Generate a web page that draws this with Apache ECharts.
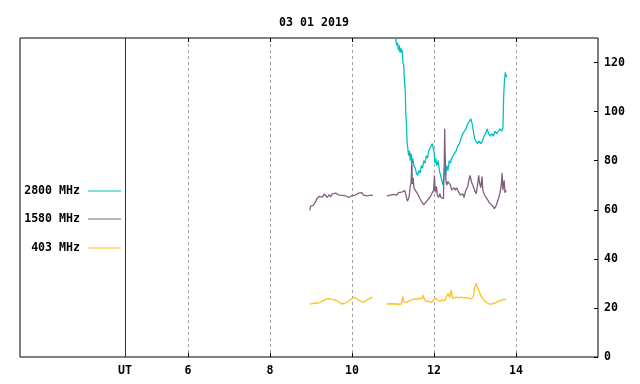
<!DOCTYPE html>
<html>
<head>
<meta charset="utf-8">
<script src="https://cdn.jsdelivr.net/npm/echarts@6/dist/echarts.min.js"></script>
<style>
html,body{margin:0;padding:0;background:#fff;}
#chart{width:640px;height:384px;}
</style>
</head>
<body>
<div id="chart"></div>
<script>
// ---- data ----
const titleText = '03 01 2019';
const xTickValues = [6, 8, 10, 12, 14];
const yTickValues = [0, 20, 40, 60, 80, 100, 120];
const utTime = 4.46;
const utLabel = 'UT';
const seriesNames = ['2800 MHz', '1580 MHz', '403 MHz'];

const t2800 = [11.05,11.07,11.09,11.11,11.13,11.15,11.17,11.19,11.21,11.23,11.24,11.26,11.28,11.30,11.31,11.33,11.34,11.36,11.38,11.40,11.42,11.44,11.46,11.48,11.51,11.54,11.57,11.60,11.63,11.66,11.69,11.72,11.75,11.78,11.81,11.84,11.87,11.90,11.93,11.96,11.98,12.00,12.02,12.04,12.07,12.10,12.13,12.16,12.19,12.22,12.24,12.26,12.28,12.31,12.34,12.37,12.40,12.43,12.46,12.50,12.54,12.58,12.62,12.66,12.70,12.74,12.78,12.82,12.86,12.90,12.93,12.96,12.99,13.02,13.06,13.10,13.14,13.18,13.22,13.26,13.30,13.33,13.37,13.41,13.45,13.49,13.53,13.57,13.61,13.65,13.68,13.69,13.70,13.72,13.74,13.76,13.77];
const v2800 = [133,129,127,128,125,127,124,126,124,125,120,119,112,108,100,94,88,85,82,84,80,83,79,81,78,77,75,74,76,75,78,77,80,79,82,81,84,84,86,87,85,84,79,81,78,80,76,74,72,70,73,77,74,78,76,80,79,81,81,83,84,86,87,89,91,92,93,95,96,97,95,92,89,88,87,88,87,88,90,91,93,91,90,91,90,92,91,92,93,92,93,100,107,113,116,114,115];

const t1580 = [8.97,8.99,9.02,9.05,9.08,9.11,9.14,9.17,9.20,9.24,9.28,9.32,9.36,9.40,9.44,9.48,9.52,9.56,9.60,9.64,9.68,9.72,9.76,9.80,9.84,9.88,9.92,9.96,10.00,10.04,10.08,10.12,10.16,10.20,10.24,10.28,10.32,10.36,10.40,10.44,10.48,10.51,10.68,10.85,10.89,10.93,10.97,11.01,11.05,11.09,11.13,11.17,11.21,11.25,11.29,11.32,11.35,11.37,11.39,11.42,11.44,11.46,11.47,11.49,11.51,11.54,11.57,11.60,11.63,11.66,11.69,11.72,11.75,11.78,11.82,11.86,11.90,11.93,11.96,11.99,12.01,12.03,12.06,12.08,12.11,12.14,12.17,12.20,12.23,12.25,12.26,12.27,12.29,12.31,12.34,12.37,12.40,12.43,12.46,12.49,12.52,12.55,12.58,12.61,12.64,12.67,12.70,12.73,12.76,12.79,12.82,12.85,12.88,12.91,12.94,12.97,13.00,13.03,13.06,13.09,13.11,13.14,13.17,13.19,13.22,13.25,13.28,13.31,13.35,13.39,13.43,13.47,13.51,13.55,13.58,13.61,13.64,13.66,13.68,13.71,13.73,13.76];
const v1580 = [59.7,61.5,60.8,61.8,62.5,63.2,64.5,63.8,65.5,66.0,65.2,66.4,65.8,65.0,66.2,65.3,66.5,66.0,66.8,67.3,66.0,65.4,65.9,65.2,65.7,65.5,65.0,65.6,65.8,65.4,66.0,66.3,66.8,66.2,67.0,66.0,66.4,65.7,66.5,65.9,66.3,66.0,null,65.6,66.2,66.0,66.7,66.3,66.8,66.0,67.0,66.5,67.2,66.8,67.8,67.0,63.5,62.8,65.0,69.5,71.0,80.0,70.5,73.0,69.0,68.0,67.5,66.5,65.5,64.5,63.5,62.8,62.0,62.8,63.5,64.2,65.0,66.0,67.0,68.0,74.0,67.0,69.5,66.0,65.0,66.5,65.0,65.5,64.5,80.0,93.0,84.0,72.0,70.0,71.5,72.0,70.0,68.0,67.5,69.0,68.0,69.0,68.2,67.0,66.0,65.5,66.5,65.0,67.0,68.5,69.5,72.0,74.0,71.5,72.0,69.0,67.5,66.5,70.0,74.0,71.0,69.0,73.5,68.0,66.5,65.5,65.0,64.0,62.8,62.0,61.5,60.5,61.5,63.5,65.0,67.0,70.0,75.0,68.0,72.0,67.0,68.0];

const t403 = [8.97,9.03,9.09,9.15,9.21,9.27,9.31,9.38,9.44,9.50,9.56,9.62,9.68,9.74,9.80,9.86,9.92,9.99,10.04,10.09,10.15,10.21,10.27,10.33,10.39,10.45,10.50,10.68,10.85,10.95,11.08,11.15,11.20,11.22,11.24,11.26,11.29,11.35,11.41,11.47,11.53,11.59,11.65,11.70,11.73,11.76,11.81,11.87,11.94,11.99,12.04,12.09,12.14,12.20,12.26,12.30,12.34,12.38,12.42,12.45,12.48,12.55,12.61,12.67,12.73,12.79,12.85,12.91,12.96,12.99,13.03,13.06,13.10,13.14,13.18,13.23,13.28,13.32,13.36,13.42,13.48,13.54,13.61,13.67,13.72,13.76];
const v403 = [21.5,21.8,21.9,22.0,22.2,22.8,23.3,23.7,23.8,23.5,23.3,23.0,22.4,21.6,21.8,22.2,22.8,23.7,24.4,24.0,23.3,22.8,22.3,22.8,23.5,24.0,24.4,null,21.6,21.7,21.6,21.5,21.6,23.0,24.6,22.4,21.9,22.4,23.0,23.4,23.7,23.5,24.0,23.6,25.3,23.8,22.6,22.8,22.2,23.4,24.0,23.2,22.6,23.3,23.0,24.5,26.0,24.2,27.3,24.0,23.3,24.4,24.2,24.4,24.0,24.2,24.0,23.7,24.5,28.0,30.1,28.5,26.7,25.0,24.0,23.0,22.2,21.8,21.5,21.7,21.9,22.5,23.0,23.3,23.5,23.3];

// ---- build ----
const monoFont = 'DejaVu Sans Mono';
const textStyleBase = {fontFamily: monoFont, fontWeight: 'bold', fontSize: 11.6, color: '#000'};
const colors = ['#00c0c0', '#806080', '#ffc020'];

function zip(t, v) { return t.map((x, i) => [x, v[i]]); }

const chart = echarts.init(document.getElementById('chart'), null, {renderer: 'canvas'});

const legendTops = [185, 213, 242];
const legends = seriesNames.map((n, i) => ({
  data: [n],
  right: 519,
  top: legendTops[i],
  align: 'right',
  orient: 'horizontal',
  padding: 0,
  icon: 'rect',
  itemWidth: 33,
  itemHeight: 1,
  selectedMode: false,
  textStyle: Object.assign({}, textStyleBase, {padding: [0, 3, 0, 0]})
}));

const lineSeries = (name, t, v, color) => ({
  name: name,
  type: 'line',
  data: zip(t, v),
  color: color,
  showSymbol: false,
  symbol: 'none',
  connectNulls: false,
  lineStyle: {width: 1.3, color: color},
  clip: true,
  animation: false
});

const s2800 = lineSeries(seriesNames[0], t2800, v2800, colors[0]);
s2800.markLine = {
  silent: true,
  symbol: 'none',
  label: {show: false},
  lineStyle: {color: '#a00000', type: 'solid', width: 1},
  data: [{xAxis: utTime}],
  animation: false
};

chart.setOption({
  animation: false,
  backgroundColor: '#fff',
  title: {
    text: titleText,
    left: 309,
    textAlign: 'center',
    top: 12,
    textStyle: textStyleBase
  },
  legend: legends,
  grid: {
    left: 20, right: 42, top: 38, bottom: 27,
    show: true, borderColor: '#000', borderWidth: 1, backgroundColor: 'transparent'
  },
  xAxis: [{
    type: 'value', min: 1.9, max: 16, position: 'bottom',
    axisLine: {show: false},
    axisTick: {show: true, inside: true, length: 4, customValues: xTickValues, lineStyle: {color: '#000'}},
    axisLabel: {
      show: true, margin: 8,
      customValues: [utTime].concat(xTickValues),
      formatter: v => (Math.abs(v - utTime) < 1e-6 ? '{ut|' + utLabel + '}' : String(v)),
      rich: {ut: {fontFamily: monoFont, fontWeight: 'bold', fontSize: 11.6, color: '#000', padding: [0, 0, 3, 0]}},
      fontFamily: monoFont, fontWeight: 'bold', fontSize: 11.6, color: '#000'
    },
    splitLine: {show: true, lineStyle: {color: '#a0a0a0', type: [3, 3], width: 1}}
  }, {
    type: 'value', min: 1.9, max: 16, position: 'top',
    axisLine: {show: false},
    axisTick: {show: true, inside: true, length: 4, customValues: xTickValues, lineStyle: {color: '#000'}},
    axisLabel: {show: false},
    splitLine: {show: false}
  }],
  yAxis: {
    type: 'value', min: 0, max: 130, position: 'right',
    axisLine: {show: false},
    axisTick: {show: true, inside: true, length: 4, customValues: yTickValues, lineStyle: {color: '#000'}},
    axisLabel: {
      show: true, margin: 6, customValues: yTickValues,
      fontFamily: monoFont, fontWeight: 'bold', fontSize: 11.6, color: '#000'
    },
    splitLine: {show: false}
  },
  series: [s2800,
    lineSeries(seriesNames[1], t1580, v1580, colors[1]),
    lineSeries(seriesNames[2], t403, v403, colors[2])]
});
</script>
</body>
</html>
